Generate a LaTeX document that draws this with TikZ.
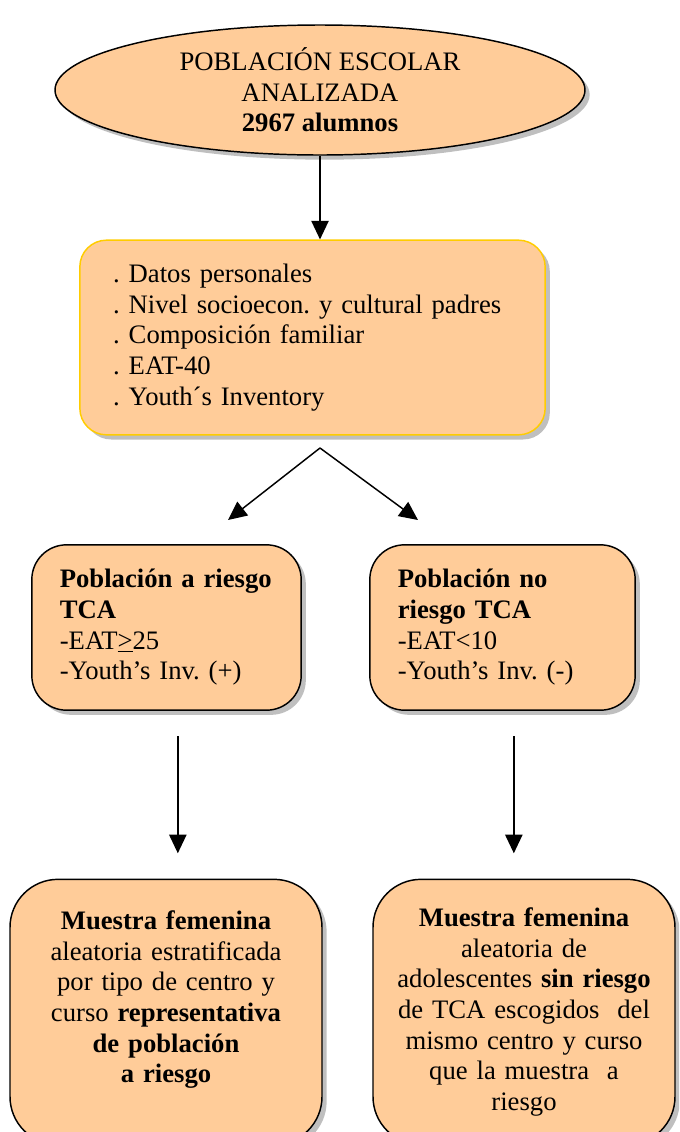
\documentclass[tikz,border=0pt]{standalone}
\usepackage{fontspec}
\setmainfont{Liberation Serif}
\usetikzlibrary{shapes.geometric,shadows,arrows.meta}
\definecolor{durazno}{HTML}{FFCC99}
\definecolor{dorado}{HTML}{FFCC00}
\frenchspacing

\begin{document}
\begin{tikzpicture}[x=0.75pt,y=-0.75pt,
  sombra/.style={drop shadow={shadow xshift=3.5pt,shadow yshift=-3.5pt,fill=black!50}},
  texto/.style={font=\fontsize{20}{23}\selectfont},
  caja/.style={draw,line width=1.1pt,fill=durazno,sombra,texto},
  flecha/.style={line width=1.1pt,-{Triangle[length=14pt,width=13pt]}}]
\useasboundingbox (0,0) rectangle (679,1132);
\clip (0,0) rectangle (679,1132);
% poblacion total
\node[caja,ellipse,minimum width=397.5pt,minimum height=97.5pt,inner sep=0pt,align=center] (poblacion) at (320,90)
  {POBLACIÓN ESCOLAR\\ ANALIZADA\\ \textbf{2967 alumnos}};
\node[caja,draw=dorado,rounded corners=20pt,minimum width=349pt,minimum height=146pt,inner xsep=25pt,text width=299pt,align=left] (datos) at (312.5,337.5)
  {. Datos personales\\ . Nivel socioecon. y cultural padres\\ . Composición familiar\\ . EAT-40\\ . Youth´s Inventory};
% grupos
\node[caja,rounded corners=26pt,minimum width=197pt,minimum height=124pt,inner xsep=21pt,text width=160pt,align=left] (riesgo) at (166.5,627.5)
  {\textbf{Población a riesgo}\\ \textbf{TCA}\\ -EAT\underline{>}25\\ -Youth’s Inv. (+)};
\node[caja,rounded corners=26pt,minimum width=199pt,minimum height=124pt,inner xsep=21pt,text width=157pt,align=left] (noriesgo) at (502.5,627.5)
  {\textbf{Población no}\\ \textbf{riesgo TCA}\\ -EAT<10\\ -Youth’s Inv. (-)};
% muestras
\node[caja,rounded corners=36pt,minimum width=234pt,minimum height=199pt,inner xsep=8pt,text width=218pt,align=center] (muestraA) at (166,1012)
  {\textbf{Muestra femenina}\\ aleatoria estratificada\\ por tipo de centro y\\ curso \textbf{representativa}\\ \textbf{de población}\\ \textbf{a riesgo}\\ ~};
\node[caja,rounded corners=36pt,minimum width=226.5pt,minimum height=199pt,inner xsep=8pt,text width=210pt,align=center] (muestraB) at (524,1012)
  {\textbf{Muestra femenina}\\ aleatoria de\\ adolescentes \textbf{sin riesgo}\\ de TCA escogidos~ del\\ mismo centro y curso\\ que la muestra~ a\\ riesgo};
% flechas
\coordinate (rama) at (320,448);
\coordinate (ramaA) at (228,520);
\coordinate (ramaB) at (418,520);
\draw[flecha] (poblacion.south) -- (poblacion.south |- datos.north);
\draw[flecha] (rama) -- (ramaA);
\draw[flecha] (rama) -- (ramaB);
\draw[flecha,shorten <=19pt,shorten >=19pt] ([xshift=8.5pt]riesgo.south) -- ([xshift=8.5pt]riesgo.south |- muestraA.north);
\draw[flecha,shorten <=19pt,shorten >=19pt] ([xshift=8.5pt]noriesgo.south) -- ([xshift=8.5pt]noriesgo.south |- muestraB.north);
\end{tikzpicture}
\end{document}
